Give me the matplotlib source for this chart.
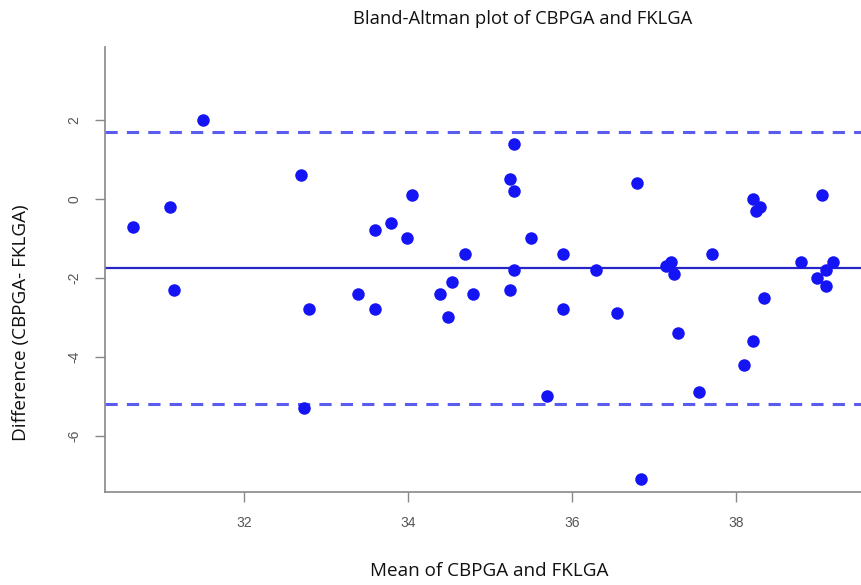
import numpy as np
import matplotlib
matplotlib.use("Agg")
import matplotlib.pyplot as plt

# mean of the two methods (x) and their difference (y)
mean_vals = [30.65, 31.10, 31.15, 31.50, 32.70, 32.74, 32.80, 33.39, 33.60, 33.60,
             33.79, 33.99, 34.05, 34.39, 34.49, 34.54, 34.70, 34.79, 35.24, 35.24,
             35.29, 35.29, 35.29, 35.50, 35.70, 35.89, 35.89, 36.29, 36.55, 36.79,
             36.84, 37.15, 37.20, 37.24, 37.29, 37.55, 37.70, 38.10, 38.20, 38.20,
             38.24, 38.29, 38.34, 38.79, 38.99, 39.04, 39.09, 39.09, 39.18]
diff_vals = [-0.7, -0.2, -2.3, 2.0, 0.6, -5.3, -2.8, -2.4, -0.8, -2.8,
             -0.6, -1.0, 0.1, -2.4, -3.0, -2.1, -1.4, -2.4, 0.5, -2.3,
             1.4, 0.2, -1.8, -1.0, -5.0, -1.4, -2.8, -1.8, -2.9, 0.4,
             -7.1, -1.7, -1.6, -1.9, -3.4, -4.9, -1.4, -4.2, -3.6, 0.0,
             -0.3, -0.2, -2.5, -1.6, -2.0, 0.1, -2.2, -1.8, -1.6]
x_ticks = [32, 34, 36, 38]
y_ticks = [2, 0, -2, -4, -6]

d = np.array(diff_vals)
bias = d.mean()
sd = d.std(ddof=1)
upper = bias + 1.96 * sd
lower = bias - 1.96 * sd

fig = plt.figure(figsize=(8.61, 5.85), dpi=100)
ax = fig.add_axes([0.122, 0.159, 0.878, 0.761])

ax.plot(mean_vals, diff_vals, 'o', color='#1414f5', markersize=9, markeredgewidth=0, zorder=3)
ax.axhline(bias, color='#2626c8', lw=1.6, zorder=2)
ax.axhline(upper, color='#5a5cf0', lw=2.2, dashes=(4, 3), zorder=2)
ax.axhline(lower, color='#5a5cf0', lw=2.2, dashes=(4, 3), zorder=2)

ax.set_xlim(30.31, 39.52)
ax.set_ylim(-7.42, 3.85)
ax.set_xticks(x_ticks)
ax.set_yticks(y_ticks)
ax.set_xticklabels([str(t) for t in x_ticks], family='Liberation Sans', fontsize=10, color='#555555')
ax.set_yticklabels([str(t) for t in y_ticks], family='Liberation Sans', fontsize=10, color='#555555',
                   rotation=90, va='center')
ax.tick_params(direction='out', length=7, width=1, color='#888888', pad=10)

for s in ['top', 'right']:
    ax.spines[s].set_visible(False)
for s in ['left', 'bottom']:
    ax.spines[s].set_color('#888888')
    ax.spines[s].set_linewidth(1.2)

fig.text(0.607, 0.968, 'Bland-Altman plot of CBPGA and FKLGA', ha='center', va='center',
         family='Open Sans', fontsize=13.2, color='#111111')
fig.text(0.568, 0.024, 'Mean of CBPGA and FKLGA', ha='center', va='center',
         family='Open Sans', fontsize=13.6, color='#111111')
fig.text(0.024, 0.448, 'Difference (CBPGA- FKLGA)', ha='center', va='center', rotation=90,
         family='Open Sans', fontsize=13.6, color='#111111')

fig.savefig('out.png', dpi=100)
